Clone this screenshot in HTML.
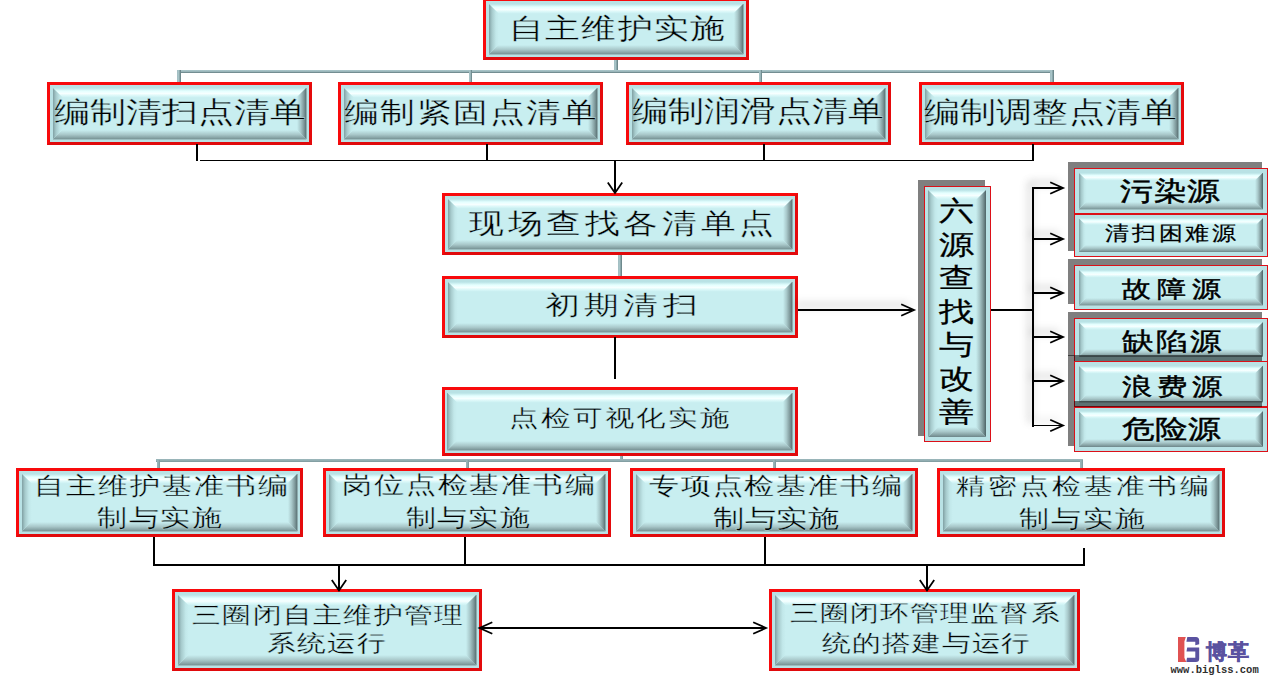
<!DOCTYPE html>
<html><head><meta charset="utf-8"><title>自主维护实施</title><style>
*{margin:0;padding:0;box-sizing:border-box}
html,body{width:1270px;height:679px;overflow:hidden;background:#fff}
body{position:relative;font-family:"Liberation Serif",serif;color:#000}
.ba,.bb,.bv,.tl,.ln,.gh,.gv,.sh,.ov{position:absolute}
.ba{border:3.5px solid #f80a0c;border-right-color:#e40a0c;border-bottom-color:#e00a0c;background:#b9e2e5}
.bb{border:1.75px solid #dc1018;background:#b9e2e5}
.sh{background:rgba(0,0,0,0.5)}
.bv{background:#c8eef0}
.bv i{position:absolute;display:block}
.bv .t{left:0;top:0;right:0;background:linear-gradient(to bottom,#b9e3e6 0%,#e4ffff 30%,#f6ffff 55%,#d6f6f7 80%,#c8eef0 100%)}
.bv .bo{left:0;bottom:0;right:0;background:linear-gradient(to bottom,#c8eef0 0%,#a9c8ca 45%,#84a0a2 80%,#6c8588 100%)}
.bv .l{left:0;top:0;bottom:0;background:linear-gradient(to right,#80a0a3 0%,#a6cacc 30%,#c2e8ea 70%,#c8eef0 100%)}
.bv .r{right:0;top:0;bottom:0;background:linear-gradient(to right,#c8eef0 0%,#a9c9cb 35%,#7d9799 70%,#4d6366 100%)}
.tl{white-space:nowrap;transform-origin:0 0;color:#000;-webkit-text-stroke:0.35px #c8eef0}
.vt{-webkit-text-stroke:0.25px #000}
.bd{-webkit-text-stroke:0.45px #000;color:#000}
.bd2{-webkit-text-stroke:0.2px #000;color:#000}
.gh{background:linear-gradient(to bottom,#9ab6ba 0%,#b0ccd0 30%,#89a5a9 65%,#5f797d 100%)}
.gv{background:linear-gradient(to right,#9ab6ba 0%,#b0ccd0 30%,#89a5a9 65%,#5f797d 100%)}
.ov{left:0;top:0;pointer-events:none}
.gh2{position:absolute;background:linear-gradient(to bottom,#9cb8bc 0%,#90acb0 60%,#7a9599 100%)}
.gv2{position:absolute;background:linear-gradient(to right,#9cb8bc 0%,#90acb0 60%,#7a9599 100%)}
</style></head>
<body>
<div class="gv" style="left:614px;top:58px;width:4px;height:15px"></div><div class="gh" style="left:177px;top:69.5px;width:877px;height:3.6px"></div><div class="gv" style="left:177px;top:70px;width:3.8px;height:14px"></div><div class="gv" style="left:468.5px;top:70px;width:3.8px;height:14px"></div><div class="gv" style="left:758.5px;top:70px;width:3.8px;height:14px"></div><div class="gv" style="left:1050px;top:70px;width:3.8px;height:14px"></div><div class="gv" style="left:618px;top:253px;width:4px;height:25px"></div><div class="gv2" style="left:619.5px;top:453px;width:3.3px;height:9px"></div><div class="gh2" style="left:156px;top:459.2px;width:927px;height:3.3px"></div><div class="gv2" style="left:156.5px;top:459.5px;width:3.3px;height:10.5px"></div><div class="gv2" style="left:465.5px;top:459.5px;width:3.3px;height:10.5px"></div><div class="gv2" style="left:772.5px;top:459.5px;width:3.3px;height:10.5px"></div><div class="gv2" style="left:1079.7px;top:459.5px;width:3.3px;height:10.5px"></div><div class="ba" style="left:483px;top:-2px;width:266px;height:62px"></div><div class="bv" style="left:488.5px;top:3.5px;width:255.0px;height:51.0px"><i class="t" style="height:10px;clip-path:polygon(0 0,100% 0,calc(100% - 10px) 100%,10px 100%)"></i><i class="bo" style="height:10px;clip-path:polygon(10px 0,calc(100% - 10px) 0,100% 100%,0 100%)"></i><i class="l" style="width:10px;clip-path:polygon(0 0,100% 10px,100% calc(100% - 10px),0 100%)"></i><i class="r" style="width:10px;clip-path:polygon(0 10px,100% 0,100% 100%,0 calc(100% - 10px))"></i></div><div class="ba" style="left:47px;top:82px;width:265px;height:63px"></div><div class="bv" style="left:52.5px;top:87.5px;width:254.0px;height:52.0px"><i class="t" style="height:10px;clip-path:polygon(0 0,100% 0,calc(100% - 10px) 100%,10px 100%)"></i><i class="bo" style="height:10px;clip-path:polygon(10px 0,calc(100% - 10px) 0,100% 100%,0 100%)"></i><i class="l" style="width:10px;clip-path:polygon(0 0,100% 10px,100% calc(100% - 10px),0 100%)"></i><i class="r" style="width:10px;clip-path:polygon(0 10px,100% 0,100% 100%,0 calc(100% - 10px))"></i></div><div class="ba" style="left:338px;top:82px;width:265px;height:63px"></div><div class="bv" style="left:343.5px;top:87.5px;width:254.0px;height:52.0px"><i class="t" style="height:10px;clip-path:polygon(0 0,100% 0,calc(100% - 10px) 100%,10px 100%)"></i><i class="bo" style="height:10px;clip-path:polygon(10px 0,calc(100% - 10px) 0,100% 100%,0 100%)"></i><i class="l" style="width:10px;clip-path:polygon(0 0,100% 10px,100% calc(100% - 10px),0 100%)"></i><i class="r" style="width:10px;clip-path:polygon(0 10px,100% 0,100% 100%,0 calc(100% - 10px))"></i></div><div class="ba" style="left:626px;top:82px;width:265px;height:63px"></div><div class="bv" style="left:631.5px;top:87.5px;width:254.0px;height:52.0px"><i class="t" style="height:10px;clip-path:polygon(0 0,100% 0,calc(100% - 10px) 100%,10px 100%)"></i><i class="bo" style="height:10px;clip-path:polygon(10px 0,calc(100% - 10px) 0,100% 100%,0 100%)"></i><i class="l" style="width:10px;clip-path:polygon(0 0,100% 10px,100% calc(100% - 10px),0 100%)"></i><i class="r" style="width:10px;clip-path:polygon(0 10px,100% 0,100% 100%,0 calc(100% - 10px))"></i></div><div class="ba" style="left:919px;top:82px;width:265px;height:63px"></div><div class="bv" style="left:924.5px;top:87.5px;width:254.0px;height:52.0px"><i class="t" style="height:10px;clip-path:polygon(0 0,100% 0,calc(100% - 10px) 100%,10px 100%)"></i><i class="bo" style="height:10px;clip-path:polygon(10px 0,calc(100% - 10px) 0,100% 100%,0 100%)"></i><i class="l" style="width:10px;clip-path:polygon(0 0,100% 10px,100% calc(100% - 10px),0 100%)"></i><i class="r" style="width:10px;clip-path:polygon(0 10px,100% 0,100% 100%,0 calc(100% - 10px))"></i></div><div class="ba" style="left:442px;top:193px;width:356px;height:62px"></div><div class="bv" style="left:447.5px;top:198.5px;width:345.0px;height:51.0px"><i class="t" style="height:10px;clip-path:polygon(0 0,100% 0,calc(100% - 10px) 100%,10px 100%)"></i><i class="bo" style="height:10px;clip-path:polygon(10px 0,calc(100% - 10px) 0,100% 100%,0 100%)"></i><i class="l" style="width:10px;clip-path:polygon(0 0,100% 10px,100% calc(100% - 10px),0 100%)"></i><i class="r" style="width:10px;clip-path:polygon(0 10px,100% 0,100% 100%,0 calc(100% - 10px))"></i></div><div class="ba" style="left:442px;top:276px;width:356px;height:62px"></div><div class="bv" style="left:447.5px;top:281.5px;width:345.0px;height:51.0px"><i class="t" style="height:10px;clip-path:polygon(0 0,100% 0,calc(100% - 10px) 100%,10px 100%)"></i><i class="bo" style="height:10px;clip-path:polygon(10px 0,calc(100% - 10px) 0,100% 100%,0 100%)"></i><i class="l" style="width:10px;clip-path:polygon(0 0,100% 10px,100% calc(100% - 10px),0 100%)"></i><i class="r" style="width:10px;clip-path:polygon(0 10px,100% 0,100% 100%,0 calc(100% - 10px))"></i></div><div class="ba" style="left:441.5px;top:387px;width:356.5px;height:69px"></div><div class="bv" style="left:447.0px;top:392.5px;width:345.5px;height:58.0px"><i class="t" style="height:10px;clip-path:polygon(0 0,100% 0,calc(100% - 10px) 100%,10px 100%)"></i><i class="bo" style="height:10px;clip-path:polygon(10px 0,calc(100% - 10px) 0,100% 100%,0 100%)"></i><i class="l" style="width:10px;clip-path:polygon(0 0,100% 10px,100% calc(100% - 10px),0 100%)"></i><i class="r" style="width:10px;clip-path:polygon(0 10px,100% 0,100% 100%,0 calc(100% - 10px))"></i></div><div class="ba" style="left:16px;top:468px;width:287px;height:69px"></div><div class="bv" style="left:21.5px;top:473.5px;width:276.0px;height:58.0px"><i class="t" style="height:10px;clip-path:polygon(0 0,100% 0,calc(100% - 10px) 100%,10px 100%)"></i><i class="bo" style="height:10px;clip-path:polygon(10px 0,calc(100% - 10px) 0,100% 100%,0 100%)"></i><i class="l" style="width:10px;clip-path:polygon(0 0,100% 10px,100% calc(100% - 10px),0 100%)"></i><i class="r" style="width:10px;clip-path:polygon(0 10px,100% 0,100% 100%,0 calc(100% - 10px))"></i></div><div class="ba" style="left:323px;top:468px;width:288px;height:69px"></div><div class="bv" style="left:328.5px;top:473.5px;width:277.0px;height:58.0px"><i class="t" style="height:10px;clip-path:polygon(0 0,100% 0,calc(100% - 10px) 100%,10px 100%)"></i><i class="bo" style="height:10px;clip-path:polygon(10px 0,calc(100% - 10px) 0,100% 100%,0 100%)"></i><i class="l" style="width:10px;clip-path:polygon(0 0,100% 10px,100% calc(100% - 10px),0 100%)"></i><i class="r" style="width:10px;clip-path:polygon(0 10px,100% 0,100% 100%,0 calc(100% - 10px))"></i></div><div class="ba" style="left:630px;top:468px;width:288px;height:69px"></div><div class="bv" style="left:635.5px;top:473.5px;width:277.0px;height:58.0px"><i class="t" style="height:10px;clip-path:polygon(0 0,100% 0,calc(100% - 10px) 100%,10px 100%)"></i><i class="bo" style="height:10px;clip-path:polygon(10px 0,calc(100% - 10px) 0,100% 100%,0 100%)"></i><i class="l" style="width:10px;clip-path:polygon(0 0,100% 10px,100% calc(100% - 10px),0 100%)"></i><i class="r" style="width:10px;clip-path:polygon(0 10px,100% 0,100% 100%,0 calc(100% - 10px))"></i></div><div class="ba" style="left:937px;top:468px;width:288px;height:69px"></div><div class="bv" style="left:942.5px;top:473.5px;width:277.0px;height:58.0px"><i class="t" style="height:10px;clip-path:polygon(0 0,100% 0,calc(100% - 10px) 100%,10px 100%)"></i><i class="bo" style="height:10px;clip-path:polygon(10px 0,calc(100% - 10px) 0,100% 100%,0 100%)"></i><i class="l" style="width:10px;clip-path:polygon(0 0,100% 10px,100% calc(100% - 10px),0 100%)"></i><i class="r" style="width:10px;clip-path:polygon(0 10px,100% 0,100% 100%,0 calc(100% - 10px))"></i></div><div class="ba" style="left:172px;top:589px;width:310px;height:82px"></div><div class="bv" style="left:177.5px;top:594.5px;width:299.0px;height:71.0px"><i class="t" style="height:11px;clip-path:polygon(0 0,100% 0,calc(100% - 11px) 100%,11px 100%)"></i><i class="bo" style="height:11px;clip-path:polygon(11px 0,calc(100% - 11px) 0,100% 100%,0 100%)"></i><i class="l" style="width:11px;clip-path:polygon(0 0,100% 11px,100% calc(100% - 11px),0 100%)"></i><i class="r" style="width:11px;clip-path:polygon(0 11px,100% 0,100% 100%,0 calc(100% - 11px))"></i></div><div class="ba" style="left:769px;top:589px;width:311px;height:82px"></div><div class="bv" style="left:774.5px;top:594.5px;width:300.0px;height:71.0px"><i class="t" style="height:11px;clip-path:polygon(0 0,100% 0,calc(100% - 11px) 100%,11px 100%)"></i><i class="bo" style="height:11px;clip-path:polygon(11px 0,calc(100% - 11px) 0,100% 100%,0 100%)"></i><i class="l" style="width:11px;clip-path:polygon(0 0,100% 11px,100% calc(100% - 11px),0 100%)"></i><i class="r" style="width:11px;clip-path:polygon(0 11px,100% 0,100% 100%,0 calc(100% - 11px))"></i></div><div class="ln" style="left:196.1px;top:144px;width:1.8px;height:17px;background:#000;"></div><div class="ln" style="left:486.1px;top:144px;width:1.8px;height:17px;background:#000;"></div><div class="ln" style="left:763.1px;top:144px;width:1.8px;height:17px;background:#000;"></div><div class="ln" style="left:1032.1px;top:144px;width:1.8px;height:17px;background:#000;"></div><div class="ln" style="left:200px;top:159.6px;width:834px;height:1.8px;background:#000;"></div><div class="ln" style="left:614.1px;top:160px;width:1.8px;height:32px;background:#000;"></div><div class="ln" style="left:614.1px;top:337px;width:1.8px;height:42px;background:#000;"></div><div class="ln" style="left:153.1px;top:537px;width:1.8px;height:29px;background:#000;"></div><div class="ln" style="left:464.1px;top:537px;width:1.8px;height:29px;background:#000;"></div><div class="ln" style="left:764.1px;top:537px;width:1.8px;height:29px;background:#000;"></div><div class="ln" style="left:1083.1px;top:548px;width:1.8px;height:18px;background:#000;"></div><div class="ln" style="left:153px;top:564.3000000000001px;width:932px;height:1.8px;background:#000;"></div><div class="ln" style="left:338.1px;top:565px;width:1.8px;height:24.5px;background:#000;"></div><div class="ln" style="left:926.1px;top:565px;width:1.8px;height:24.5px;background:#000;"></div><div class="ln" style="left:480px;top:627.1px;width:285px;height:1.8px;background:#000;"></div><div class="ln" style="left:798px;top:309.1px;width:114px;height:1.8px;background:#000;box-shadow:-3px -5px 8px rgba(0,0,0,0.35);"></div><div class="ln" style="left:990px;top:309.1px;width:43px;height:1.8px;background:#000;"></div><div class="ln" style="left:1032.1px;top:187px;width:1.8px;height:239.5px;background:#000;box-shadow:-3px -5px 8px rgba(0,0,0,0.35);"></div><div class="ln" style="left:1033px;top:187.1px;width:29px;height:1.8px;background:#000;box-shadow:-3px -5px 8px rgba(0,0,0,0.35);"></div><div class="ln" style="left:1033px;top:238.1px;width:29px;height:1.8px;background:#000;box-shadow:-3px -5px 8px rgba(0,0,0,0.35);"></div><div class="ln" style="left:1033px;top:292.1px;width:29px;height:1.8px;background:#000;box-shadow:-3px -5px 8px rgba(0,0,0,0.35);"></div><div class="ln" style="left:1033px;top:336.1px;width:29px;height:1.8px;background:#000;box-shadow:-3px -5px 8px rgba(0,0,0,0.35);"></div><div class="ln" style="left:1033px;top:380.1px;width:29px;height:1.8px;background:#000;box-shadow:-3px -5px 8px rgba(0,0,0,0.35);"></div><div class="ln" style="left:1033px;top:424.6px;width:29px;height:1.8px;background:#000;box-shadow:-3px -5px 8px rgba(0,0,0,0.35);"></div><div class="sh" style="left:917.5px;top:179.5px;width:67px;height:256px"></div><div class="bb" style="left:923.5px;top:185.5px;width:67px;height:256px"></div><div class="bv" style="left:928.0px;top:190.0px;width:58.0px;height:247.0px"><i class="t" style="height:10px;clip-path:polygon(0 0,100% 0,calc(100% - 10px) 100%,10px 100%)"></i><i class="bo" style="height:10px;clip-path:polygon(10px 0,calc(100% - 10px) 0,100% 100%,0 100%)"></i><i class="l" style="width:10px;clip-path:polygon(0 0,100% 10px,100% calc(100% - 10px),0 100%)"></i><i class="r" style="width:10px;clip-path:polygon(0 10px,100% 0,100% 100%,0 calc(100% - 10px))"></i></div><div class="sh" style="left:1068px;top:207.5px;width:193.5px;height:43px"></div><div class="bb" style="left:1074px;top:213.5px;width:193.5px;height:43px"></div><div class="bv" style="left:1078.5px;top:218.0px;width:184.5px;height:34.0px"><i class="t" style="height:7px;clip-path:polygon(0 0,100% 0,calc(100% - 7px) 100%,7px 100%)"></i><i class="bo" style="height:7px;clip-path:polygon(7px 0,calc(100% - 7px) 0,100% 100%,0 100%)"></i><i class="l" style="width:7px;clip-path:polygon(0 0,100% 7px,100% calc(100% - 7px),0 100%)"></i><i class="r" style="width:7px;clip-path:polygon(0 7px,100% 0,100% 100%,0 calc(100% - 7px))"></i></div><div class="sh" style="left:1068px;top:162px;width:193.5px;height:46px"></div><div class="bb" style="left:1074px;top:168px;width:193.5px;height:46px"></div><div class="bv" style="left:1078.5px;top:172.5px;width:184.5px;height:37.0px"><i class="t" style="height:8px;clip-path:polygon(0 0,100% 0,calc(100% - 8px) 100%,8px 100%)"></i><i class="bo" style="height:8px;clip-path:polygon(8px 0,calc(100% - 8px) 0,100% 100%,0 100%)"></i><i class="l" style="width:8px;clip-path:polygon(0 0,100% 8px,100% calc(100% - 8px),0 100%)"></i><i class="r" style="width:8px;clip-path:polygon(0 8px,100% 0,100% 100%,0 calc(100% - 8px))"></i></div><div class="sh" style="left:1068px;top:259px;width:193.5px;height:45px"></div><div class="bb" style="left:1074px;top:265px;width:193.5px;height:45px"></div><div class="bv" style="left:1078.5px;top:269.5px;width:184.5px;height:36.0px"><i class="t" style="height:8px;clip-path:polygon(0 0,100% 0,calc(100% - 8px) 100%,8px 100%)"></i><i class="bo" style="height:8px;clip-path:polygon(8px 0,calc(100% - 8px) 0,100% 100%,0 100%)"></i><i class="l" style="width:8px;clip-path:polygon(0 0,100% 8px,100% calc(100% - 8px),0 100%)"></i><i class="r" style="width:8px;clip-path:polygon(0 8px,100% 0,100% 100%,0 calc(100% - 8px))"></i></div><div class="sh" style="left:1068px;top:311.5px;width:193.5px;height:44px"></div><div class="bb" style="left:1074px;top:317.5px;width:193.5px;height:44px"></div><div class="bv" style="left:1078.5px;top:322.0px;width:184.5px;height:35.0px"><i class="t" style="height:8px;clip-path:polygon(0 0,100% 0,calc(100% - 8px) 100%,8px 100%)"></i><i class="bo" style="height:8px;clip-path:polygon(8px 0,calc(100% - 8px) 0,100% 100%,0 100%)"></i><i class="l" style="width:8px;clip-path:polygon(0 0,100% 8px,100% calc(100% - 8px),0 100%)"></i><i class="r" style="width:8px;clip-path:polygon(0 8px,100% 0,100% 100%,0 calc(100% - 8px))"></i></div><div class="sh" style="left:1068px;top:355px;width:193.5px;height:46px"></div><div class="bb" style="left:1074px;top:361px;width:193.5px;height:46px"></div><div class="bv" style="left:1078.5px;top:365.5px;width:184.5px;height:37.0px"><i class="t" style="height:8px;clip-path:polygon(0 0,100% 0,calc(100% - 8px) 100%,8px 100%)"></i><i class="bo" style="height:8px;clip-path:polygon(8px 0,calc(100% - 8px) 0,100% 100%,0 100%)"></i><i class="l" style="width:8px;clip-path:polygon(0 0,100% 8px,100% calc(100% - 8px),0 100%)"></i><i class="r" style="width:8px;clip-path:polygon(0 8px,100% 0,100% 100%,0 calc(100% - 8px))"></i></div><div class="sh" style="left:1068px;top:400.5px;width:193.5px;height:45px"></div><div class="bb" style="left:1074px;top:406.5px;width:193.5px;height:45px"></div><div class="bv" style="left:1078.5px;top:411.0px;width:184.5px;height:36.0px"><i class="t" style="height:8px;clip-path:polygon(0 0,100% 0,calc(100% - 8px) 100%,8px 100%)"></i><i class="bo" style="height:8px;clip-path:polygon(8px 0,calc(100% - 8px) 0,100% 100%,0 100%)"></i><i class="l" style="width:8px;clip-path:polygon(0 0,100% 8px,100% calc(100% - 8px),0 100%)"></i><i class="r" style="width:8px;clip-path:polygon(0 8px,100% 0,100% 100%,0 calc(100% - 8px))"></i></div><div class="tl" style="left:508.62px;top:15.15px;font-size:28px;line-height:28px;letter-spacing:1.68px;transform:scale(1.2201,0.9840)">自主维护实施</div><div class="tl" style="left:54.24px;top:98.20px;font-size:29px;line-height:29px;letter-spacing:0.27px;transform:scale(1.2304,0.9923)">编制清扫点清单</div><div class="tl" style="left:344.46px;top:98.60px;font-size:28px;line-height:28px;letter-spacing:1.82px;transform:scale(1.2201,0.9840)">编制紧固点清单</div><div class="tl" style="left:631.64px;top:97.49px;font-size:29px;line-height:29px;letter-spacing:0.40px;transform:scale(1.2266,0.9892)">编制润滑点清单</div><div class="tl" style="left:924.45px;top:97.60px;font-size:29px;line-height:29px;letter-spacing:0.59px;transform:scale(1.2217,0.9852)">编制调整点清单</div><div class="tl" style="left:468.80px;top:210.40px;font-size:28px;line-height:28px;letter-spacing:3.41px;transform:scale(1.2292,0.9913)">现场查找各清单点</div><div class="tl" style="left:545.29px;top:292.86px;font-size:26px;line-height:26px;letter-spacing:2.83px;transform:scale(1.3602,1.0151)">初期清扫</div><div class="tl" style="left:508.60px;top:407.23px;font-size:23px;line-height:23px;letter-spacing:1.42px;transform:scale(1.3042,1.0189)">点检可视化实施</div><div class="tl" style="left:33.62px;top:474.48px;font-size:24px;line-height:24px;letter-spacing:1.74px;transform:scale(1.2436,0.9949)">自主维护基准书编</div><div class="tl" style="left:97.10px;top:506.24px;font-size:24px;line-height:24px;letter-spacing:1.22px;transform:scale(1.2564,1.0052)">制与实施</div><div class="tl" style="left:342.37px;top:473.20px;font-size:24px;line-height:24px;letter-spacing:1.17px;transform:scale(1.2649,1.0119)">岗位点检基准书编</div><div class="tl" style="left:406.10px;top:505.84px;font-size:24px;line-height:24px;letter-spacing:1.30px;transform:scale(1.2350,0.9880)">制与实施</div><div class="tl" style="left:649.21px;top:474.00px;font-size:24px;line-height:24px;letter-spacing:1.79px;transform:scale(1.2330,0.9864)">专项点检基准书编</div><div class="tl" style="left:712.89px;top:506.25px;font-size:25px;line-height:25px;letter-spacing:0.80px;transform:scale(1.2268,0.9814)">制与实施</div><div class="tl" style="left:955.71px;top:474.63px;font-size:23px;line-height:23px;letter-spacing:2.39px;transform:scale(1.2626,1.0101)">精密点检基准书编</div><div class="tl" style="left:1018.91px;top:506.64px;font-size:24px;line-height:24px;letter-spacing:2.03px;transform:scale(1.2242,0.9794)">制与实施</div><div class="tl" style="left:191.55px;top:603.85px;font-size:23px;line-height:23px;letter-spacing:1.61px;transform:scale(1.2311,0.9849)">三圈闭自主维护管理</div><div class="tl" style="left:267.34px;top:632.23px;font-size:23px;line-height:23px;letter-spacing:1.13px;transform:scale(1.2455,0.9964)">系统运行</div><div class="tl" style="left:790.16px;top:603.40px;font-size:22px;line-height:22px;letter-spacing:1.52px;transform:scale(1.2784,1.0227)">三圈闭环管理监督系</div><div class="tl" style="left:821.72px;top:632.23px;font-size:23px;line-height:23px;letter-spacing:1.27px;transform:scale(1.2326,0.9861)">统的搭建与运行</div><div class="tl bd" style="left:1120.34px;top:179.46px;font-size:26px;line-height:26px;letter-spacing:0.53px;transform:scale(1.2690,1.0071)">污染源</div><div class="tl bd2" style="left:1104.53px;top:222.80px;font-size:20px;line-height:20px;letter-spacing:2.82px;transform:scale(1.1747,0.9789)">清扫困难源</div><div class="tl bd" style="left:1121.91px;top:278.03px;font-size:23px;line-height:23px;letter-spacing:4.23px;transform:scale(1.2764,1.0130)">故障源</div><div class="tl bd" style="left:1121.69px;top:328.95px;font-size:25px;line-height:25px;letter-spacing:2.19px;transform:scale(1.2439,0.9872)">缺陷源</div><div class="tl bd" style="left:1122.01px;top:374.84px;font-size:24px;line-height:24px;letter-spacing:4.29px;transform:scale(1.2359,0.9809)">浪费源</div><div class="tl bd" style="left:1121.94px;top:417.08px;font-size:26px;line-height:26px;letter-spacing:0.06px;transform:scale(1.2610,1.0008)">危险源</div><div class="tl vt" style="left:939.25px;top:198.04px;font-size:27.32px;line-height:27.32px;transform:scaleX(1.3)">六</div><div class="tl vt" style="left:939.25px;top:231.57px;font-size:27.32px;line-height:27.32px;transform:scaleX(1.3)">源</div><div class="tl vt" style="left:939.25px;top:265.10px;font-size:27.32px;line-height:27.32px;transform:scaleX(1.3)">查</div><div class="tl vt" style="left:939.25px;top:298.63px;font-size:27.32px;line-height:27.32px;transform:scaleX(1.3)">找</div><div class="tl vt" style="left:939.25px;top:332.16px;font-size:27.32px;line-height:27.32px;transform:scaleX(1.3)">与</div><div class="tl vt" style="left:939.25px;top:365.69px;font-size:27.32px;line-height:27.32px;transform:scaleX(1.3)">改</div><div class="tl vt" style="left:939.25px;top:399.22px;font-size:27.32px;line-height:27.32px;transform:scaleX(1.3)">善</div><svg class="ov" width="1270" height="679" viewBox="0 0 1270 679"><polyline points="607.8,182.4 615,193 622.2,182.4" fill="none" stroke="#000" stroke-width="1.8"/><polyline points="901.2,315.8 914,310 901.2,304.2" fill="none" stroke="#000" stroke-width="1.8"/><polyline points="1050.2,193.8 1063,188 1050.2,182.2" fill="none" stroke="#000" stroke-width="1.8"/><polyline points="1050.2,244.8 1063,239 1050.2,233.2" fill="none" stroke="#000" stroke-width="1.8"/><polyline points="1050.2,298.8 1063,293 1050.2,287.2" fill="none" stroke="#000" stroke-width="1.8"/><polyline points="1050.2,342.8 1063,337 1050.2,331.2" fill="none" stroke="#000" stroke-width="1.8"/><polyline points="1050.2,386.8 1063,381 1050.2,375.2" fill="none" stroke="#000" stroke-width="1.8"/><polyline points="1050.2,431.3 1063,425.5 1050.2,419.7" fill="none" stroke="#000" stroke-width="1.8"/><polyline points="331.8,579.9 339,590.5 346.2,579.9" fill="none" stroke="#000" stroke-width="1.8"/><polyline points="919.8,579.9 927,590.5 934.2,579.9" fill="none" stroke="#000" stroke-width="1.8"/><polyline points="492.3,622.2 479.5,628 492.3,633.8" fill="none" stroke="#000" stroke-width="1.8"/><polyline points="753.2,633.8 766,628 753.2,622.2" fill="none" stroke="#000" stroke-width="1.8"/></svg><svg width="1270" height="679" viewBox="0 0 1270 679" style="position:absolute;left:0;top:0">
<path d="M1178 637 H1185.8 L1184.4 641.5 V657.8 L1186.3 662.1 H1178 Z" fill="#e05252"/>
<path d="M1187.3 637 H1196 Q1199.2 637 1199.2 640.5 V644.3 L1195.3 645.2 V641.8 H1186.4 Z" fill="#5a52a0"/>
<path d="M1187.2 647.4 H1199.2 V658.8 Q1199.2 662.1 1196 662.1 H1186.3 L1187 657.7 H1195.3 V651.5 H1186.5 Z" fill="#5a52a0"/>
</svg>
<div style="position:absolute;left:1205.5px;top:641.5px;font-size:20.5px;font-weight:bold;color:#5a52a0;-webkit-text-stroke:0.6px #5a52a0;line-height:21px;letter-spacing:1px;white-space:nowrap">博革</div>
<div style="position:absolute;left:1170.5px;top:663.5px;font-family:'Liberation Mono',monospace;font-size:10.5px;font-weight:bold;color:#2e2e2e;line-height:12px;white-space:nowrap">www.biglss.com</div>
</body></html>
